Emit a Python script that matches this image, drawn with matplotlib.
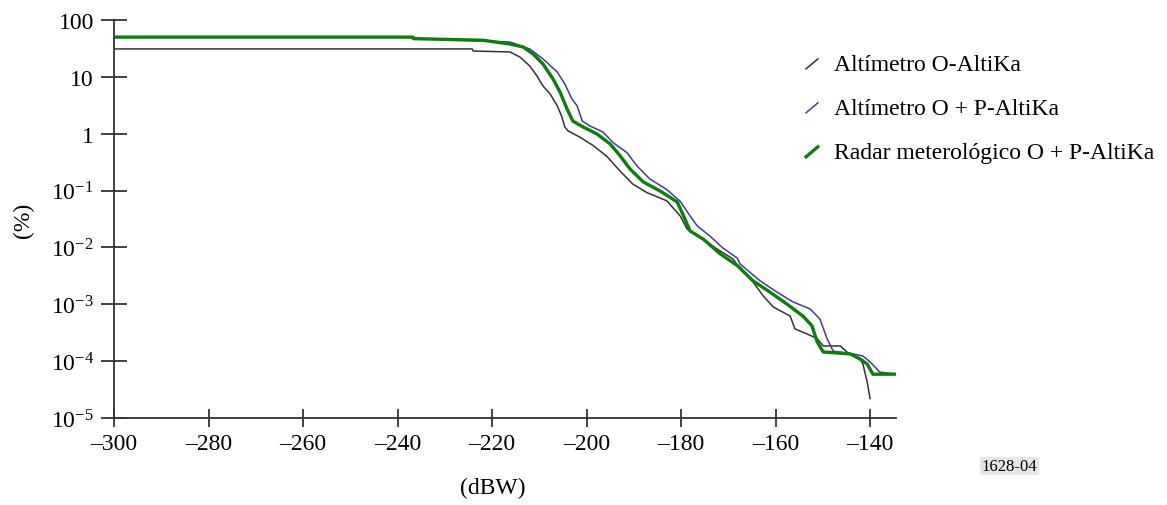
import numpy as np
import matplotlib
matplotlib.use('Agg')
import matplotlib.pyplot as plt
from matplotlib.lines import Line2D
from matplotlib.legend_handler import HandlerLine2D

# valores (dBW, %)
x_o = [-300, -224.2, -224.0, -216.2, -214.1, -212.0, -210.5, -209.2, -207.7, -206.2,
       -205.2, -204.6, -203.9, -201.4, -198.6, -195.7, -192.9, -190.2, -187.2, -183.0,
       -180.2, -178.7, -176.0, -172.4, -169.0, -167.5, -164.8, -162.6, -160.5, -156.9,
       -155.9, -153.3, -151.2, -149.9, -146.3, -144.9, -142.1, -141.5, -140.6, -140.0]
y_o = [31, 31, 28.5, 27.4, 22.3, 15.5, 10.4, 6.9, 5.0, 3.1,
       1.97, 1.31, 1.12, 0.87, 0.62, 0.4, 0.22, 0.13, 0.092, 0.066,
       0.036, 0.021, 0.0153, 0.0094, 0.0063, 0.0042, 0.0025, 0.0014, 9.0e-4, 6.2e-4,
       3.7e-4, 3.0e-4, 2.5e-4, 1.85e-4, 1.85e-4, 1.45e-4, 1.09e-4, 8.9e-5, 4.3e-5, 2.2e-5]

x_op = [-300, -236.7, -236.6, -216.2, -212.0, -209.2, -206.2, -204.6, -203.1, -202.0,
        -200.9, -199.3, -196.5, -194.4, -191.4, -189.3, -186.6, -183.0, -180.2, -178.1,
        -176.6, -173.9, -171.1, -168.1, -167.5, -163.3, -159.7, -156.3, -152.7, -150.6,
        -149.1, -147.8, -143.6, -141.5, -140.0, -137.9, -134.3]
y_op = [50, 50, 47, 41, 30.9, 20.6, 12.2, 7.5, 4.1, 3.1,
        1.67, 1.37, 1.07, 0.7, 0.46, 0.27, 0.16, 0.104, 0.065, 0.036,
        0.024, 0.0159, 0.0097, 0.0065, 0.0051, 0.0026, 0.00164, 0.0011, 8.3e-4, 5.5e-4,
        2.5e-4, 1.5e-4, 1.34e-4, 1.23e-4, 9.7e-5, 6.4e-5, 5.9e-5]

x_radar = [-300, -236.7, -236.6, -221.9, -216.2, -213.4, -211.3, -209.2, -207.1, -205.6,
           -204.1, -202.9, -200.7, -197.8, -195.0, -193.0, -190.8, -188.0, -184.4, -180.8,
           -179.2, -178.1, -175.3, -171.7, -168.1, -164.8, -161.2, -157.6, -154.2, -152.3,
           -151.2, -149.9, -144.2, -142.1, -140.6, -139.4, -134.3]
y_radar = [50, 50, 47, 44, 37.8, 33.5, 25.2, 16.8, 9.2, 5.4,
           2.7, 1.67, 1.31, 0.99, 0.66, 0.42, 0.24, 0.142, 0.098, 0.063,
           0.032, 0.0195, 0.014, 0.0077, 0.0048, 0.0026, 0.00164, 0.00101, 6.2e-4, 4.2e-4,
           2.2e-4, 1.45e-4, 1.34e-4, 1.09e-4, 8.9e-5, 5.9e-5, 5.9e-5]

x_ticks = [-300, -280, -260, -240, -220, -200, -180, -160, -140]
y_ticks = [1e-5, 1e-4, 1e-3, 1e-2, 1e-1, 1, 10, 100]
y_labels = ['$10^{-5}$', '$10^{-4}$', '$10^{-3}$', '$10^{-2}$', '$10^{-1}$', '1', '10', '100']
names = ['Altímetro O-AltiKa', 'Altímetro O + P-AltiKa', 'Radar meterológico O + P-AltiKa']

plt.rcParams['font.family'] = ['Liberation Serif', 'DejaVu Serif']
plt.rcParams['mathtext.fontset'] = 'custom'
plt.rcParams['mathtext.rm'] = 'Liberation Serif'
plt.rcParams['mathtext.it'] = 'Liberation Serif:italic'


class SlantLine(HandlerLine2D):
    # linea inclinada corta en la leyenda
    def create_artists(self, legend, orig_handle, xdescent, ydescent, width, height, fontsize, trans):
        line = Line2D([-xdescent, -xdescent + width],
                      [-ydescent + 0.05 * height, -ydescent + 0.65 * height])
        self.update_prop(line, orig_handle, legend)
        line.set_transform(trans)
        return [line]


fig = plt.figure(figsize=(11.67, 5.06), dpi=100)
ax = fig.add_axes([0.0977, 0.1719, 0.6701, 0.7866])

ax.plot(x_o, y_o, color='#333333', lw=1.1, label=names[0])
ax.plot(x_op, y_op, color='#3a3aa8', lw=1.1, label=names[1])
ax.plot(x_radar, y_radar, color='#0a800a', lw=2.4, label=names[2])

ax.set_yscale('log')
ax.set_xlim(-300, -134.5)
ax.set_ylim(1e-5, 100)
ax.set_xticks(x_ticks)
ax.set_xticklabels(['\u2013' + str(-v) for v in x_ticks])
ax.set_yticks(y_ticks)
ax.set_yticklabels(y_labels)
ax.yaxis.set_minor_locator(matplotlib.ticker.NullLocator())

for s in ['top', 'right']:
    ax.spines[s].set_visible(False)
for s in ['left', 'bottom']:
    ax.spines[s].set_color('#333333')
    ax.spines[s].set_linewidth(1.3)

ax.tick_params(axis='x', direction='inout', length=13, width=1.3, color='#333333',
               labelsize=17, pad=4)
ax.tick_params(axis='y', direction='inout', length=19, width=1.3, color='#333333',
               labelsize=17, pad=5)

fig.text(0.02, 0.565, '(%)', rotation=90, ha='center', va='center', fontsize=17)
fig.text(0.4225, 0.035, '(dBW)', ha='center', va='center', fontsize=17)
fig.text(0.865, 0.077, '1628-04', ha='center', va='center', fontsize=12,
         bbox=dict(facecolor='#e6e6e6', edgecolor='none', pad=1))

ax.legend(loc='upper left', bbox_to_anchor=(0.6725, 0.935), bbox_transform=fig.transFigure,
          frameon=False, fontsize=17, handlelength=0.5, handletextpad=0.7,
          labelspacing=0.95, handler_map={Line2D: SlantLine()})

plt.savefig('out.png', dpi=100)
